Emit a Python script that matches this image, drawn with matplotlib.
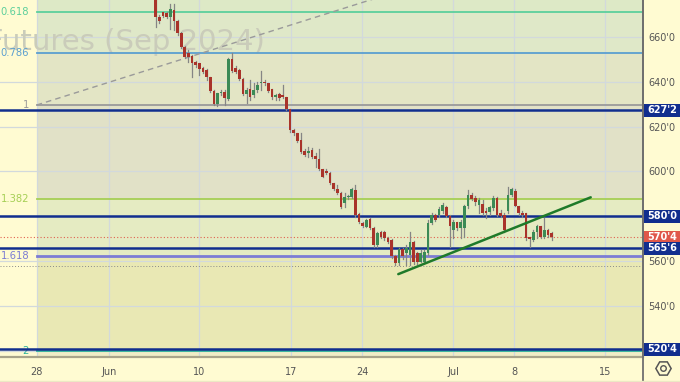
import matplotlib
matplotlib.use('Agg')
import matplotlib.pyplot as plt
import matplotlib.transforms as mtransforms
from matplotlib.lines import Line2D
from matplotlib.patches import Rectangle

plt.rcParams['font.family'] = ['DejaVu Sans']

# intraday bars (5 per session), prices in cents
opens = [678.5, 668.8, 671.0, 670.5, 668.8, 672.0, 667.3, 661.6, 655.7, 652.7,
         651.5, 649.0, 648.2, 646.0, 645.2, 642.0, 636.0, 630.1, 634.8, 635.6,
         632.2, 650.0, 646.0, 645.2, 641.1, 634.5, 636.6, 634.1, 636.3, 639.3,
         640.0, 639.3, 636.6, 633.0, 634.5, 634.1, 633.0, 627.7, 618.4, 617.0,
         614.0, 609.2, 608.0, 609.5, 606.8, 605.3, 600.9, 600.3, 599.4, 594.6,
         592.0, 590.2, 586.0, 588.4, 588.4, 591.7, 581.0, 577.1, 575.3, 578.6,
         574.6, 567.1, 572.7, 573.1, 570.1, 569.4, 562.0, 559.0, 565.2, 563.4,
         562.7, 568.6, 563.7, 559.7, 559.7, 563.4, 576.8, 580.6, 580.6, 582.1,
         584.0, 580.1, 573.6, 577.2, 574.6, 574.6, 584.3, 589.5, 588.0, 585.0,
         585.5, 582.5, 581.8, 583.6, 588.0, 581.6, 580.6, 582.1, 589.5, 591.0,
         584.3, 581.6, 581.3, 570.6, 569.4, 573.1, 575.4, 570.6, 573.6, 572.4]
highs = [679.5, 669.8, 671.3, 671.0, 674.7, 674.7, 667.6, 662.4, 656.0, 654.2,
         652.0, 649.3, 648.5, 646.7, 645.5, 642.3, 636.3, 635.1, 636.3, 636.3,
         650.5, 652.7, 647.0, 645.5, 641.5, 637.1, 640.8, 639.3, 640.0, 644.9,
         640.8, 639.6, 636.9, 634.5, 634.8, 638.5, 633.3, 628.0, 618.7, 617.3,
         617.0, 609.8, 611.0, 610.3, 608.0, 609.8, 601.2, 600.9, 599.8, 594.9,
         593.9, 590.9, 590.5, 589.5, 592.4, 593.9, 581.2, 577.5, 578.6, 579.0,
         575.0, 573.1, 573.5, 573.5, 570.9, 569.7, 562.7, 565.7, 565.7, 567.1,
         572.7, 569.1, 564.2, 564.9, 564.9, 578.3, 581.6, 581.0, 584.0, 585.8,
         584.6, 580.6, 578.3, 577.6, 578.3, 585.0, 591.7, 590.2, 588.8, 588.0,
         587.3, 583.5, 584.6, 588.8, 588.5, 582.8, 581.3, 592.9, 592.5, 592.0,
         584.6, 582.1, 581.6, 570.9, 573.6, 576.1, 575.7, 579.1, 574.2, 573.1]
lows = [664.6, 666.1, 669.1, 668.5, 663.4, 663.1, 660.9, 654.9, 650.5, 649.0,
        642.3, 646.7, 643.0, 643.8, 640.8, 635.6, 629.6, 629.2, 634.1, 629.6,
        631.9, 644.5, 643.8, 640.8, 634.1, 630.7, 631.9, 633.3, 635.6, 636.3,
        638.5, 635.6, 632.2, 631.9, 631.9, 632.6, 627.4, 617.7, 616.2, 613.2,
        608.0, 606.8, 606.5, 605.8, 602.1, 600.6, 597.3, 598.8, 594.3, 591.7,
        589.9, 583.5, 584.2, 587.5, 587.9, 579.8, 577.1, 575.3, 575.0, 574.1,
        566.4, 566.4, 570.1, 569.4, 567.9, 561.2, 558.2, 558.2, 560.7, 558.2,
        558.2, 558.7, 558.7, 559.3, 559.0, 562.7, 576.5, 577.8, 579.8, 581.3,
        579.5, 566.4, 570.2, 573.9, 570.2, 570.9, 583.6, 587.0, 585.0, 581.3,
        580.6, 579.1, 580.6, 582.8, 580.1, 579.5, 573.1, 581.3, 589.0, 584.3,
        580.6, 579.8, 569.4, 566.4, 569.1, 570.2, 570.2, 570.2, 570.9, 569.4]
closes = [668.8, 667.3, 669.4, 669.1, 672.3, 667.3, 661.6, 655.7, 651.2, 651.2,
          648.2, 647.5, 645.5, 644.5, 642.0, 636.0, 630.1, 634.8, 635.6, 632.6,
          650.0, 645.0, 644.5, 641.1, 634.5, 636.3, 633.3, 636.3, 638.5, 640.0,
          639.3, 636.0, 633.0, 634.1, 632.6, 633.3, 627.7, 618.4, 617.0, 613.7,
          608.8, 607.3, 609.0, 606.5, 605.3, 600.9, 597.6, 599.4, 594.6, 592.0,
          590.2, 584.2, 588.7, 589.0, 592.0, 580.5, 577.5, 575.6, 578.3, 574.5,
          567.1, 572.4, 570.9, 570.1, 568.6, 562.0, 559.0, 565.2, 562.0, 565.7,
          568.6, 559.3, 559.3, 563.7, 564.2, 576.8, 580.5, 578.3, 583.1, 585.0,
          580.1, 575.4, 577.6, 574.6, 577.6, 584.6, 589.5, 587.6, 586.5, 587.0,
          581.3, 581.3, 584.0, 588.0, 580.6, 580.1, 573.6, 589.5, 592.0, 584.6,
          581.3, 580.6, 570.2, 569.7, 573.1, 575.4, 570.6, 573.6, 571.6, 570.5]

date_labels = ['28', 'Jun', '10', '17', '24', 'Jul', '8', '15']
date_pos = [-32.8, -12.8, 12.0, 37.3, 56.8, 81.9, 98.7, 123.8]

price_ticks = [520, 540, 560, 580, 600, 620, 640, 660]
price_tick_labels = ['', "540'0", "560'0", '', "600'0", "620'0", "640'0", "660'0"]

# fibonacci extension
fib_ratios = ['0.618', '0.786', '1', '1.382', '1.618', '2']
fib_prices = [671.2, 652.9, 629.6, 587.7, 562.2, 520.0]
fib_colors = ['#5ccf9c', '#5b9fd0', '#9a9a9a', '#a6cf55', '#7c7cd4', '#2db39a']
zone_colors = ['#dde9c6', '#dfe8c8', '#e3e5c5', '#e1e1c7', '#e5ebc2', '#e9e8b4', '#efedc6']
fib_start = -32.8
fib_line_x = [-32.8, 62.0]
fib_line_y = [629.6, 678.0]

key_levels = [627.25, 580.0, 565.75, 520.5]
key_labels = ["627'2", "580'0", "565'6", "520'4"]
last_price = 570.5
last_label = "570'4"
grey_dotted = 557.7

trend_x = [66.8, 119.8]
trend_y = [554.1, 588.4]

W, H = 680, 382
bg = '#fffbd2'
fig = plt.figure(figsize=(6.8, 3.82), dpi=100, facecolor=bg)
ax = fig.add_axes([0, 25 / H, 643 / W, 357 / H])
ax.set_facecolor(bg)
x0, x1 = -42.9, 134.2
ax.set_xlim(x0, x1)
ax.set_ylim(517.1, 676.5)

# zones
bounds = [700] + fib_prices + [500]
for i in range(len(zone_colors)):
    ax.fill_between([fib_start, x1 + 5], bounds[i + 1], bounds[i],
                    color=zone_colors[i], lw=0, zorder=0)

ax.set_xticks(date_pos)
ax.set_xticklabels(date_labels)
ax.set_yticks(price_ticks)
ax.set_yticklabels(price_tick_labels)
ax.yaxis.tick_right()
ax.tick_params(axis='both', length=0, labelsize=7, labelcolor='#555555')
ax.tick_params(axis='x', pad=7)
ax.tick_params(axis='y', pad=4)
ax.grid(color='#d2d9dc', lw=0.9, zorder=0.5)
ax.set_axisbelow(True)
for s in ['top', 'left']:
    ax.spines[s].set_visible(False)
ax.spines['right'].set_color('#6f6f6f')
ax.spines['right'].set_linewidth(1.3)
ax.spines['bottom'].set_color('#a8a48a')
ax.spines['bottom'].set_linewidth(1.6)

# watermark
ax.text(265 / 643, 1 - 42 / 357, 'Wheat Futures (Sep 2024)', transform=ax.transAxes,
        ha='right', va='center', fontsize=21, color='#caccba', zorder=1)

# fib levels
blend = mtransforms.blended_transform_factory(ax.transAxes, ax.transData)
for r, p, c in zip(fib_ratios, fib_prices, fib_colors):
    lw = 2.0 if r == '1.618' else 1.3
    ax.plot([fib_start, x1], [p, p], color=c, lw=lw, zorder=2)
    ax.text(29 / 643, p, r, transform=blend, ha='right', va='center',
            fontsize=7.2, color=c, zorder=3)
ax.plot(fib_line_x, fib_line_y, color='#9a9a9a', lw=1, ls=(0, (4, 3)), zorder=2)

# horizontal levels
for p in key_levels:
    ax.axhline(p, color='#112e8e', lw=1.8, zorder=3)
ax.axhline(last_price, color='#e0604f', lw=0.8, ls=(0, (1, 2)), zorder=3)
ax.axhline(grey_dotted, color='#8a8a8a', lw=0.7, ls=(0, (1, 2)), zorder=3)

# candles
up_c, dn_c = '#3b8a56', '#a9332a'
for i in range(len(opens)):
    o, h, l, c = opens[i], highs[i], lows[i], closes[i]
    col = up_c if c >= o else dn_c
    ax.plot([i, i], [l, h], color='#858585', lw=0.9, zorder=4)
    ax.bar(i, max(abs(c - o), 0.5), bottom=min(o, c), width=0.74,
           color=col, linewidth=0, zorder=5)

ax.plot(trend_x, trend_y, color='#1f7a2a', lw=1.8, zorder=6, solid_capstyle='round')

# price tags on the axis
def tag(p, s, col):
    yf = ax.transData.transform((0, p))[1] / H
    fig.add_artist(Rectangle((644 / W, yf - 6.5 / H), 36 / W, 13 / H,
                             transform=fig.transFigure, fc=col, ec='none', zorder=10))
    fig.text(662 / W, yf, s, ha='center', va='center', fontsize=7, color='white',
             fontweight='bold', zorder=11)

for p, s in zip(key_levels, key_labels):
    if s != "565'6":
        tag(p, s, '#112e8e')
tag(last_price, last_label, '#e0584a')
tag(key_levels[2], key_labels[2], '#112e8e')

# right separator and settings icon
fig.add_artist(Line2D([643 / W, 643 / W], [0, 1], color='#6f6f6f', lw=1.3,
                      transform=fig.transFigure))
fig.add_artist(Line2D([0, 1], [1.5 / H, 1.5 / H], color='#ece8c4', lw=1,
                      transform=fig.transFigure))
fig.add_artist(Line2D([663 / W], [14 / H], marker='H', ms=11, mfc='none',
                      mec='#555555', mew=1.1, transform=fig.transFigure))
fig.add_artist(Line2D([663 / W], [14 / H], marker='o', ms=4, mfc='none',
                      mec='#555555', mew=1.0, transform=fig.transFigure))

fig.savefig('out.png', dpi=100, facecolor=bg)
